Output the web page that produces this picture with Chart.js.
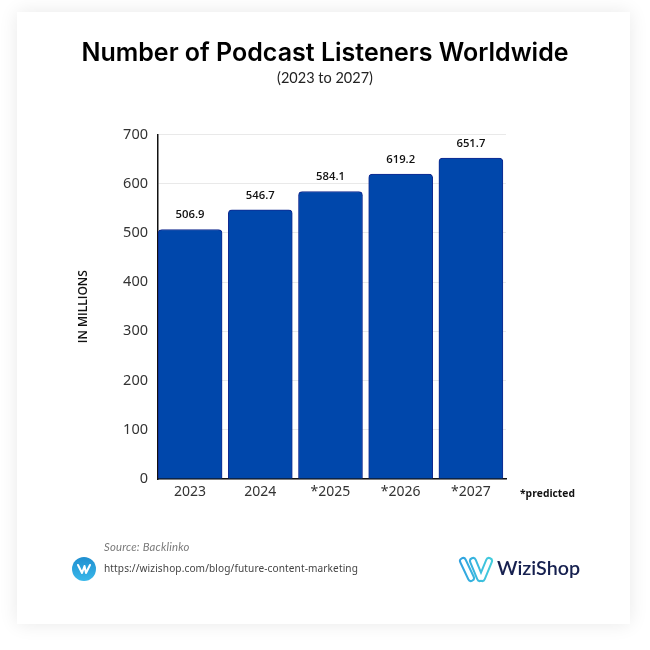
<!DOCTYPE html>
<html><head><meta charset="utf-8">
<style>
html,body{margin:0;padding:0;background:#fff;width:650px;height:650px;overflow:hidden}
#card{position:absolute;left:17px;top:12px;width:613px;height:612px;background:#fff;box-shadow:0 0 18px rgba(0,0,0,.09)}
#wrap{position:absolute;left:0;top:0;width:650px;height:650px}
.t{position:absolute;white-space:nowrap;font-family:"Noto Sans",sans-serif}
</style></head><body>
<div id="card"></div>
<div id="wrap"><canvas id="c" width="650" height="650"></canvas></div>
<div class="t" style="left:520px;top:486px;font:700 10.3px 'Open Sans',sans-serif;color:#111">*predicted</div>
<div class="t" style="left:104px;top:540px;font:italic 400 11.3px Lato,sans-serif;color:#7a7a7a;letter-spacing:.2px">Source: Backlinko</div>
<div class="t" style="left:104px;top:561px;font:400 10.1px 'Noto Sans',sans-serif;color:#444;letter-spacing:.1px">https://wizishop.com/blog/future-content-marketing</div>
<svg style="position:absolute;left:72px;top:557px" width="24" height="24" viewBox="0 0 24 24">
<defs><linearGradient id="g" x1="0" y1="0" x2="0" y2="1"><stop offset="0" stop-color="#1f8fd0"/><stop offset="1" stop-color="#3ab8ea"/></linearGradient></defs>
<circle cx="12" cy="12" r="12" fill="url(#g)"/>
<path d="M6 8 L10 16 L12.5 9 M12.5 9 L14 16 L18 8" fill="none" stroke="#fff" stroke-width="2" stroke-linecap="round" stroke-linejoin="round"/>
</svg>
<svg style="position:absolute;left:458px;top:555px" width="36" height="30" viewBox="0 0 36 30">
<defs><linearGradient id="h" gradientUnits="userSpaceOnUse" x1="0" y1="0" x2="36" y2="0"><stop offset="0" stop-color="#2f9fe0"/><stop offset="1" stop-color="#45d0dc"/></linearGradient></defs>
<g fill="none" stroke-linecap="round">
<path d="M5 6 L13 23 M15 6 L22 23 M31 6 L24 23" stroke="url(#h)" stroke-width="8"/>
<path d="M5 6 L13 23 M15 6 L22 23 M31 6 L24 23" stroke="#fff" stroke-width="4"/>
</g>
</svg>
<div class="t" style="left:497px;top:556px;font:600 19.700px Lato,sans-serif;color:#16204f">WiziShop</div>
<script src="https://cdn.jsdelivr.net/npm/chart.js@4/dist/chart.umd.js"></script>
<script>
const categories = ["2023","2024","*2025","*2026","*2027"];
const listeners = [506.9,546.7,584.1,619.2,651.7];
const yTicksMax = 700;
const titleText = "Number of Podcast Listeners Worldwide";
const subtitleText = "(2023 to 2027)";
const yTitle = "IN MILLIONS";

const valueLabels = {
  id:'valueLabels',
  afterDatasetsDraw(chart){
    const ctx = chart.ctx, meta = chart.getDatasetMeta(0);
    ctx.save();
    ctx.font = '600 11.300px "Open Sans",sans-serif';
    ctx.fillStyle = '#111';
    ctx.textAlign = 'center';
    ctx.textBaseline = 'alphabetic';
    meta.data.forEach((bar,i)=>ctx.fillText(listeners[i].toFixed(1), bar.x, bar.y-11));
    ctx.restore();
  }
};

new Chart(document.getElementById('c'),{
  type:'bar',
  plugins:[valueLabels],
  data:{datasets:[{
    data:listeners.map((v,i)=>({x:i,y:v})),
    backgroundColor:'#0047ab',
    borderColor:'#12298f',
    borderWidth:1,
    borderRadius:{topLeft:4,topRight:4,bottomLeft:0,bottomRight:0},
    borderSkipped:'bottom',
    barThickness:64
  }]},
  options:{
    responsive:false,animation:false,devicePixelRatio:1,
    layout:{padding:{top:0,left:0,right:0,bottom:0}},
    plugins:{
      legend:{display:false},tooltip:{enabled:false},
      title:{display:true,text:titleText,color:'#000',font:{family:'Inter',size:25,weight:'600'},padding:{top:38,bottom:2}},
      subtitle:{display:true,text:subtitleText,color:'#222',font:{family:'Lato',size:14.500,weight:'400'},padding:{top:0,bottom:47}}
    },
    scales:{
      x:{type:'linear',offset:false,min:-0.457,max:4.5,
        afterBuildTicks(s){s.ticks=categories.map((c,i)=>({value:i}));},
        afterFit(s){s.height=171;},
        grid:{display:false,drawTicks:false},
        border:{display:true,color:'#111',width:1.500},
        ticks:{autoSkip:false,maxRotation:0,padding:5,color:'#333',font:{family:'Noto Sans',size:14},callback:(v)=>categories[v]}
      },
      y:{min:0,max:yTicksMax,
        afterFit(s){s.width=158;},
        grid:{color:'#e9e9e9',lineWidth:1,drawTicks:false},
        border:{display:true,color:'#111',width:1.500},
        ticks:{stepSize:100,padding:10,color:'#333',font:{family:'Noto Sans',size:14.500}},
        title:{display:true,text:yTitle,color:'#111',font:{family:'Open Sans',size:12,weight:'600'},padding:{top:76,bottom:0}}
      },
      gutter:{type:'linear',position:'right',display:true,
        afterFit(s){s.width=144;},
        grid:{display:false,drawTicks:false},border:{display:false},ticks:{display:false}}
    }
  }
});
</script>
</body></html>
